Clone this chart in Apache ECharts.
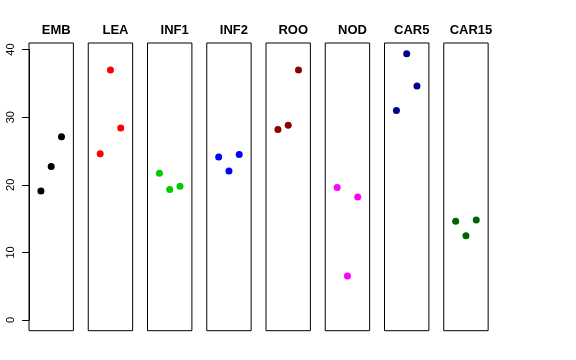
<!DOCTYPE html>
<html><head><meta charset="utf-8">
<script src="https://cdn.jsdelivr.net/npm/echarts@6/dist/echarts.min.js"></script>
<style>html,body{margin:0;padding:0;background:#fff}#c{width:576px;height:360px}</style>
</head><body><div id="c"></div>
<script>
var panels = ["EMB","LEA","INF1","INF2","ROO","NOD","CAR5","CAR15"];
var colors = ["#000000","#FF0000","#00CD00","#0000FF","#8B0000","#FF00FF","#00008B","#006400"];
var xPos = [1, 2, 3];
var EMB = [19.1, 22.7, 27.1];
var LEA = [24.6, 37.0, 28.4];
var INF1 = [21.7, 19.3, 19.8];
var INF2 = [24.1, 22.05, 24.5];
var ROO = [28.2, 28.8, 37.0];
var NOD = [19.6, 6.5, 18.2];
var CAR5 = [31.0, 39.4, 34.6];
var CAR15 = [14.6, 12.45, 14.8];
var values = [EMB, LEA, INF1, INF2, ROO, NOD, CAR5, CAR15];
var yTickMin = 0, yTickMax = 40, yTickStep = 10;

(function(){
var yMin = -1.576, yMax = 40.976;
var left0 = 29, step = 59.25, w = 44.4, gTop = 43, h = 287.7;
var grids = [], xAxes = [], yAxes = [], series = [], titles = [];
panels.forEach(function(name, i){
  var l = left0 + i*step;
  grids.push({left: l, top: gTop, width: w, height: h, show: true, borderColor: '#000', borderWidth: 1});
  xAxes.push({gridIndex: i, type: 'value', min: -0.16, max: 4.16, show: false});
  yAxes.push({gridIndex: i, type: 'value', min: yMin, max: yMax, show: false});
  series.push({type: 'scatter', xAxisIndex: i, yAxisIndex: i, symbol: 'circle', symbolSize: 7,
    itemStyle: {color: colors[i], opacity: 1}, silent: true,
    data: values[i].map(function(v, k){ return [xPos[k], v]; })});
  titles.push({text: name, left: l + w/2, top: 19, textAlign: 'center',
    textStyle: {fontSize: 13, fontWeight: 'bold', color: '#000', fontFamily: 'Liberation Sans, Arial, sans-serif'}});
});
var pxPerUnit = h / (yMax - yMin);
var axTop = gTop + (yMax - yTickMax) * pxPerUnit;
var axH = (yTickMax - yTickMin) * pxPerUnit;
grids.push({left: left0, top: axTop, width: w, height: axH, show: false});
xAxes.push({gridIndex: 8, type: 'value', min: 0, max: 1, show: false});
yAxes.push({gridIndex: 8, type: 'value', min: yTickMin, max: yTickMax, interval: yTickStep,
  splitLine: {show: false}, axisLine: {show: true, lineStyle: {color: '#000'}},
  axisTick: {show: true, length: 7, lineStyle: {color: '#000'}},
  axisLabel: {rotate: 90, margin: 13, color: '#000', fontSize: 11, fontFamily: 'Liberation Sans, Arial, sans-serif'}});

var chart = echarts.init(document.getElementById('c'), null, {renderer: 'canvas'});
chart.setOption({animation: false, backgroundColor: '#fff', title: titles, grid: grids, xAxis: xAxes, yAxis: yAxes, series: series});
})();
</script></body></html>
